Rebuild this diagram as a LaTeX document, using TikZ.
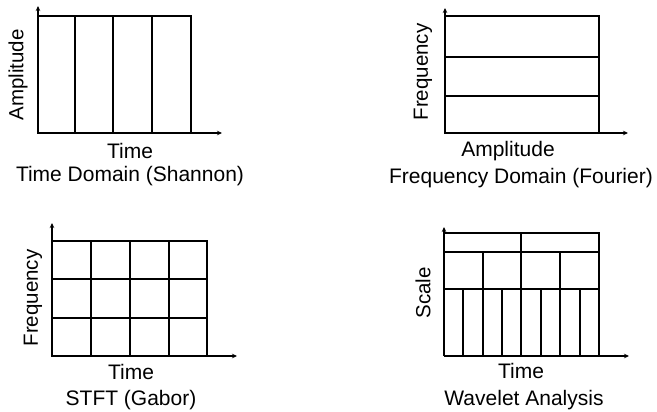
\documentclass[tikz,border=0pt]{standalone}
\usepackage{fontspec}
\setmainfont{Liberation Sans}
\usetikzlibrary{arrows.meta}
\begin{document}
\begin{tikzpicture}[x=1pt,y=-1pt,line width=1.7pt,
  axis/.style={-{Stealth[length=5pt,width=4.5pt]}},
  lbl/.style={font=\fontsize{21}{25}\selectfont,inner sep=0pt,anchor=base},
  vlbl/.style={font=\fontsize{20.5}{24}\selectfont,inner sep=0pt,rotate=90}]
\useasboundingbox (0,0) rectangle (657,412);
% ---------- Panel 1: Time domain ----------
\coordinate (o1) at (38,133);
\coordinate (y1) at (38,6);
\coordinate (x1) at (222,133);
\draw (38,16) rectangle (191,133);
\foreach \x in {75,113,152} \draw (\x,16) -- (\x,133);
\draw[axis] (o1) -- (y1);
\draw[axis] (o1) -- (x1);
\node[vlbl] (a1) at (18,75) {Amplitude};
\node[lbl] (t1) at (130,158) {Time};
\node[lbl] (c1) at (130,182) {Time Domain (Shannon)};
% ---------- Panel 2: Frequency domain ----------
\coordinate (o2) at (445,133);
\coordinate (y2) at (445,8);
\coordinate (x2) at (628,133);
\draw (445,16) rectangle (599,133);
\foreach \y in {57,96} \draw (445,\y) -- (599,\y);
\draw[axis] (o2) -- (y2);
\draw[axis] (o2) -- (x2);
\node[vlbl] (f2) at (423,72) {Frequency};
\node[lbl] (a2) at (508,157) {Amplitude};
\node[lbl] (c2) at (521,183) {Frequency Domain (Fourier)};
% ---------- Panel 3: STFT ----------
\coordinate (o3) at (52,356);
\coordinate (y3) at (52,223);
\coordinate (x3) at (237,356);
\draw (52,241) rectangle (207,356);
\foreach \x in {91,130,169} \draw (\x,241) -- (\x,356);
\foreach \y in {279,318} \draw (52,\y) -- (207,\y);
\draw[axis] (o3) -- (y3);
\draw[axis] (o3) -- (x3);
\node[vlbl] (f3) at (33,298) {Frequency};
\node[lbl] (t3) at (131,379) {Time};
\node[lbl] (c3) at (131,405) {STFT (Gabor)};
% ---------- Panel 4: Wavelet ----------
\coordinate (o4) at (444,356);
\coordinate (y4) at (444,227);
\coordinate (x4) at (629,356);
\draw (444,233) -- (599,233) -- (599,356);
\draw (444,252) -- (599,252);
\draw (444,289) -- (599,289);
\foreach \x in {463,502,541,580} \draw (\x,289) -- (\x,356);
\foreach \x in {483,560} \draw (\x,252) -- (\x,356);
\draw (521,233) -- (521,356);
\draw[axis] (o4) -- (y4);
\draw[axis] (o4) -- (x4);
\node[vlbl] (s4) at (423,293) {Scale};
\node[lbl] (t4) at (521,378) {Time};
\node[lbl] (c4) at (524,405) {Wavelet Analysis};
\end{tikzpicture}
\end{document}
